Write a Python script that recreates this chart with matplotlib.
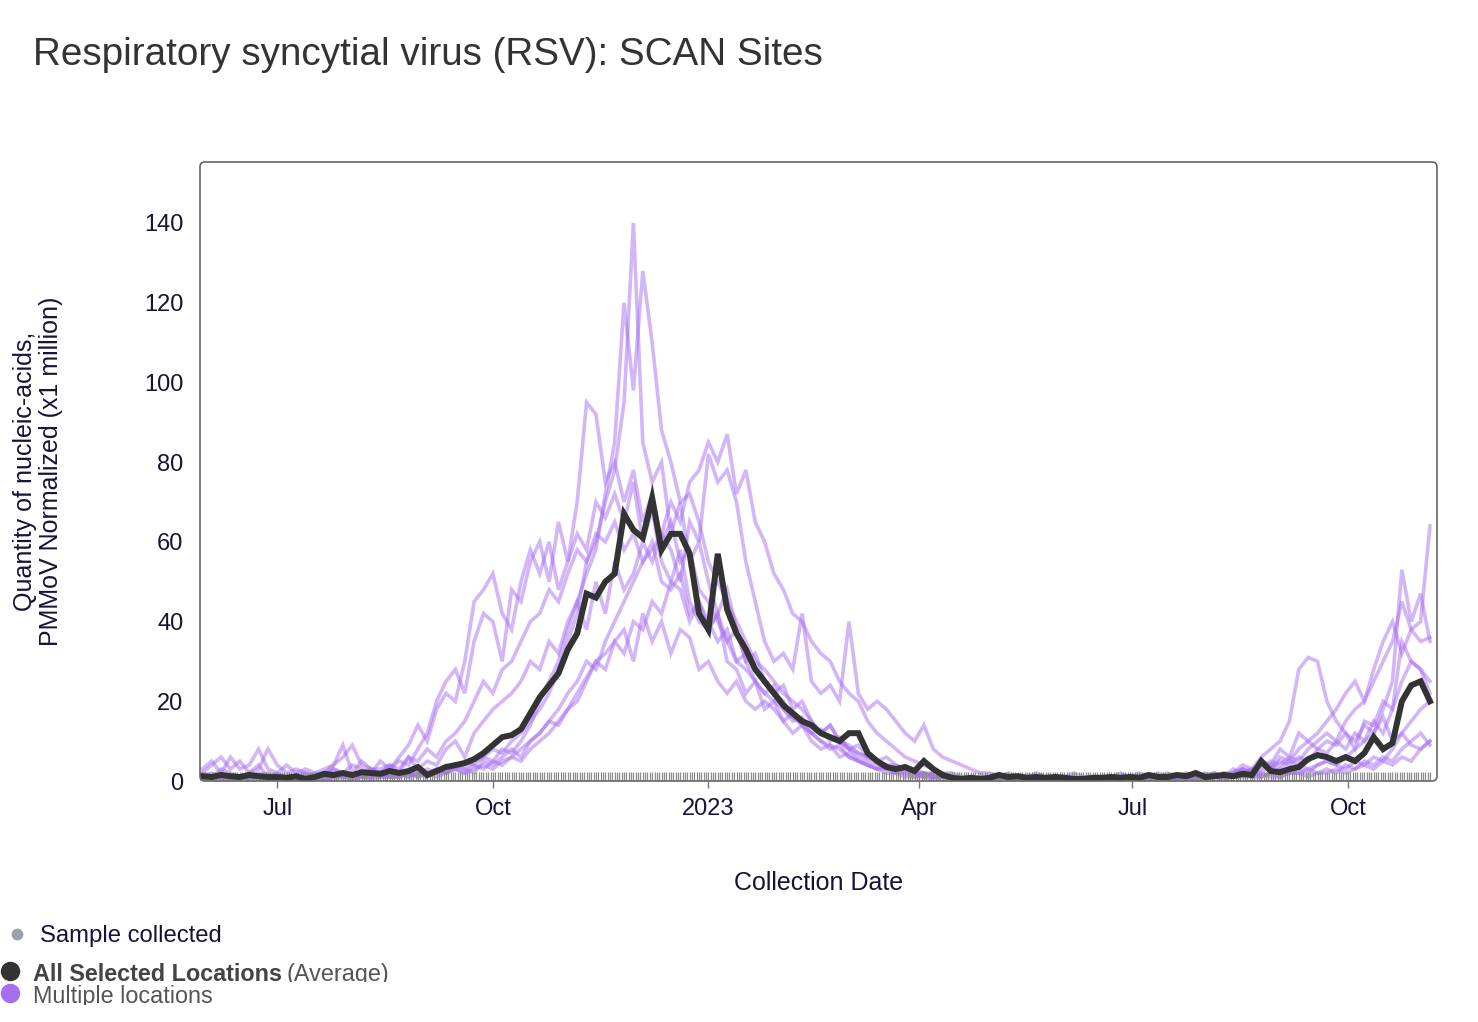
import matplotlib
matplotlib.use("Agg")
import matplotlib.pyplot as plt
from matplotlib.patches import FancyBboxPatch
from matplotlib.transforms import Bbox, TransformedBbox
import pandas as pd

plt.rcParams['font.family'] = ['Liberation Sans', 'DejaVu Sans']

# sampling grid of the series (every 4 days)
start_date = "2022-05-30"
n_points = 132
sample_start, sample_end = "2022-05-30", "2023-11-05"

tick_dates = ["2022-07-01", "2022-10-01", "2023-01-01", "2023-04-01", "2023-07-01", "2023-10-01"]
tick_labels = ["Jul", "Oct", "2023", "Apr", "Jul", "Oct"]
y_ticks = [0, 20, 40, 60, 80, 100, 120, 140]

avg_values = [
    1.2, 1, 1.5, 1.2, 1, 1.5, 1.2, 1, 1, 0.8, 1.2, 0.5,
    1, 1.8, 1.5, 2, 1.5, 2.2, 2, 1.8, 2.5, 2, 2.5, 3.5,
    1.5, 2.5, 3.5, 4, 4.5, 5.5, 7, 9, 11, 11.5, 13, 17,
    21, 24, 27, 33, 37, 47, 46, 50, 52, 67, 63, 61,
    71, 58, 62, 62, 57, 42, 38, 57, 43, 37, 33, 28,
    25, 22, 19, 17, 15, 14, 12, 11, 10, 12, 12, 7,
    5, 3.5, 3, 3.5, 2.5, 5, 3, 1.5, 0.8, 0.5, 0.8, 0.5,
    0.8, 1.5, 1, 1.2, 0.8, 1, 0.8, 1, 0.8, 0.5, 0.5, 0.8,
    0.8, 1, 0.8, 1, 0.8, 1.5, 1, 1, 1.5, 1.2, 2, 1,
    1.2, 1.5, 1.2, 1.8, 1.5, 5, 2.5, 2.2, 3, 3.5, 5.5, 6.5,
    6, 5, 6, 5, 7, 11, 8, 9.5, 20, 24, 25, 20,
]

site_1 = [
    2, 1, 3, 2, 1, 2, 4, 1, 2, 1, 1, 2,
    1, 2, 3, 2, 4, 3, 2, 5, 3, 6, 9, 14,
    10, 18, 22, 20, 30, 45, 48, 52, 42, 38, 50, 58,
    52, 60, 48, 55, 62, 58, 70, 66, 72, 65, 75, 60,
    68, 55, 50, 58, 45, 40, 38, 42, 30, 28, 22, 25,
    18, 20, 15, 12, 14, 10, 8, 9, 6, 7, 5, 4,
    3, 4, 2, 3, 2, 1, 2, 1, 1, 1, 0.5, 1,
    1, 0.5, 1, 1, 0.5, 1, 1, 0.5, 1, 1, 0.5, 1,
    1, 1, 0.5, 1, 2, 1, 1, 1.5, 1, 1, 2, 1,
    1, 2, 1, 3, 2, 5, 4, 8, 6, 12, 10, 8,
    10, 9, 12, 8, 15, 14, 20, 18, 25, 30, 28, 22,
]
site_2 = [
    1, 0.5, 1, 1, 0.5, 1, 1, 0.5, 1, 1, 1, 0.5,
    1, 0.5, 1, 2, 1, 1, 2, 1, 1, 2, 1, 2,
    2, 3, 2, 4, 3, 5, 6, 8, 7, 10, 12, 15,
    18, 22, 28, 35, 42, 55, 60, 70, 78, 95, 140, 85,
    75, 80, 62, 70, 55, 60, 50, 42, 48, 38, 30, 32,
    25, 22, 20, 16, 14, 12, 10, 9, 8, 6, 5, 4,
    3, 2, 2, 1, 1, 1, 0.5, 0.5, 1, 0.5, 0.5, 0.5,
    0.5, 0.5, 0.5, 1, 0.5, 0.5, 0.5, 0.5, 0.5, 0.5, 0.5, 0.5,
    0.5, 0.5, 0.5, 1, 0.5, 0.5, 1, 0.5, 0.5, 1, 0.5, 1,
    1, 1, 1, 2, 1, 1, 2, 1, 2, 2, 3, 2,
    3, 2, 4, 3, 5, 4, 6, 5, 8, 10, 12, 9,
]
site_3 = [
    0.5, 1, 0.5, 1, 0.5, 1, 0.5, 1, 1, 0.5, 1, 0.5,
    1, 1, 0.5, 1, 1, 2, 1, 1, 2, 1, 2, 2,
    3, 2, 4, 3, 5, 4, 6, 5, 8, 7, 10, 14,
    20, 25, 30, 38, 45, 52, 58, 72, 85, 120, 98, 128,
    110, 88, 80, 70, 72, 65, 55, 50, 45, 40, 35, 30,
    28, 25, 22, 20, 18, 15, 12, 14, 10, 8, 6, 5,
    4, 3, 3, 2, 2, 1, 1, 1, 0.5, 0.5, 0.5, 0.5,
    0.5, 0.5, 0.5, 0.5, 0.5, 0.5, 0.5, 0.5, 0.5, 0.5, 0.5, 0.5,
    0.5, 0.5, 1, 0.5, 0.5, 1, 0.5, 0.5, 1, 0.5, 1, 0.5,
    1, 0.5, 1, 1, 2, 1, 2, 3, 2, 3, 2, 4,
    5, 4, 6, 8, 10, 12, 18, 25, 53, 40, 47, 35,
]
site_4 = [
    3, 5, 2, 6, 3, 4, 8, 3, 2, 4, 2, 3,
    2, 3, 4, 6, 9, 4, 3, 2, 3, 5, 4, 8,
    12, 20, 25, 28, 22, 35, 42, 40, 30, 48, 45, 55,
    60, 50, 65, 55, 70, 95, 92, 75, 80, 70, 78, 65,
    72, 60, 65, 55, 58, 48, 45, 40, 35, 38, 30, 25,
    22, 24, 18, 15, 16, 12, 10, 8, 9, 6, 5, 4,
    3, 3, 2, 2, 1, 2, 1, 1, 1, 0.5, 1, 0.5,
    0.5, 1, 0.5, 0.5, 1, 0.5, 0.5, 1, 0.5, 0.5, 1, 0.5,
    1, 0.5, 1, 1, 0.5, 1, 1, 2, 1, 1, 1, 1.5,
    2, 1, 2, 3, 2, 4, 3, 5, 4, 6, 5, 8,
    7, 10, 8, 12, 10, 15, 12, 18, 35, 30, 28, 25,
]
site_5 = [
    0.5, 1, 0.5, 0.5, 1, 0.5, 1, 0.5, 0.5, 1, 0.5, 0.5,
    1, 0.5, 1, 1, 0.5, 1, 1, 2, 1, 1, 2, 1,
    2, 1, 2, 3, 2, 3, 4, 3, 5, 6, 8, 10,
    12, 15, 18, 22, 25, 30, 28, 35, 40, 45, 50, 55,
    58, 62, 70, 65, 75, 78, 85, 80, 87, 72, 78, 65,
    60, 52, 48, 42, 40, 35, 32, 30, 25, 22, 20, 15,
    12, 10, 8, 6, 5, 4, 3, 2, 2, 1, 1, 1,
    0.5, 1, 0.5, 0.5, 1, 0.5, 0.5, 0.5, 1, 0.5, 0.5, 0.5,
    0.5, 0.5, 1, 0.5, 0.5, 0.5, 1, 0.5, 0.5, 1, 0.5, 0.5,
    1, 0.5, 1, 1, 1, 2, 1, 1, 2, 2, 1, 2,
    2, 3, 2, 3, 4, 3, 5, 4, 6, 5, 8, 10,
]
site_6 = [
    1, 2, 1, 0.5, 1, 1, 2, 1, 1, 0.5, 1, 1,
    1, 0.5, 1, 2, 1, 1, 0.5, 1, 1, 2, 1, 2,
    1, 2, 2, 3, 2, 4, 3, 5, 4, 6, 5, 8,
    10, 12, 15, 18, 20, 25, 30, 32, 35, 38, 30, 42,
    35, 40, 32, 38, 36, 28, 30, 25, 22, 25, 20, 18,
    20, 18, 15, 17, 14, 12, 13, 10, 11, 8, 9, 6,
    5, 6, 4, 3, 3, 2, 2, 1, 1, 1, 0.5, 1,
    0.5, 1, 0.5, 0.5, 0.5, 1, 0.5, 0.5, 0.5, 0.5, 1, 0.5,
    0.5, 0.5, 0.5, 1, 0.5, 0.5, 0.5, 1, 0.5, 0.5, 0.5, 1,
    1, 1, 1, 2, 3, 2, 4, 3, 5, 4, 3, 4,
    5, 4, 3, 5, 4, 6, 5, 8, 12, 15, 18, 20,
]
site_7 = [
    2, 4, 6, 3, 5, 2, 3, 8, 4, 2, 3, 2,
    1, 2, 4, 9, 2, 5, 3, 3, 4, 2, 6, 3,
    5, 4, 8, 10, 6, 12, 15, 18, 20, 22, 25, 30,
    28, 35, 32, 40, 45, 38, 50, 42, 55, 48, 52, 60,
    55, 62, 58, 50, 65, 60, 82, 75, 78, 70, 55, 45,
    35, 30, 32, 28, 42, 25, 22, 24, 20, 40, 22, 18,
    20, 18, 15, 12, 10, 14, 8, 6, 5, 4, 3, 2,
    2, 1, 2, 1, 1, 2, 1, 1, 1, 2, 1, 1,
    1, 1, 2, 1, 1, 1, 2, 1, 1, 2, 1, 1,
    2, 1, 3, 2, 3, 4, 3, 6, 5, 8, 10, 12,
    15, 18, 22, 25, 20, 28, 35, 40, 32, 38, 35, 36,
]
site_8 = [
    0.5, 1, 1, 0.5, 1, 2, 1, 0.5, 1, 1, 0.5, 1,
    1, 1, 2, 1, 0.5, 1, 1, 2, 1, 1, 2, 1,
    2, 3, 2, 4, 3, 2, 5, 4, 6, 8, 6, 10,
    12, 15, 14, 18, 22, 26, 30, 28, 35, 32, 40, 38,
    45, 42, 50, 48, 40, 45, 38, 42, 35, 30, 32, 28,
    25, 22, 24, 18, 20, 15, 12, 14, 10, 9, 7, 6,
    5, 4, 3, 3, 2, 2, 1, 1, 1, 1, 0.5, 1,
    0.5, 1, 0.5, 1, 0.5, 0.5, 1, 0.5, 0.5, 1, 0.5, 0.5,
    1, 0.5, 0.5, 1, 0.5, 1, 0.5, 1, 1, 0.5, 1, 2,
    1, 2, 2, 4, 3, 6, 8, 10, 15, 28, 31, 30,
    20, 15, 12, 10, 14, 12, 16, 10, 12, 9, 8, 10,
]
site_9 = [
    1, 0.5, 2, 1, 1, 0.5, 1, 2, 1, 0.5, 1, 1,
    2, 1, 3, 2, 1, 2, 3, 2, 4, 3, 6, 5,
    8, 6, 10, 12, 15, 20, 25, 22, 28, 30, 35, 40,
    42, 48, 45, 52, 58, 55, 62, 60, 65, 58, 62, 55,
    60, 50, 48, 52, 42, 45, 40, 35, 38, 30, 28, 25,
    22, 20, 18, 16, 15, 14, 12, 11, 10, 8, 7, 6,
    5, 4, 4, 3, 2, 2, 1, 1, 1, 0.5, 1, 0.5,
    0.5, 0.5, 1, 0.5, 1, 0.5, 0.5, 0.5, 1, 0.5, 0.5, 1,
    0.5, 1, 0.5, 0.5, 1, 0.5, 1, 1, 0.5, 1, 1, 1,
    2, 1, 2, 3, 2, 3, 5, 4, 6, 5, 8, 10,
    12, 10, 15, 18, 20, 25, 30, 35, 45, 38, 40, 64,
]
sites = [site_1, site_2, site_3, site_4, site_5, site_6, site_7, site_8, site_9]

dates = pd.date_range(start_date, periods=n_points, freq="4D")
sample_days = pd.date_range(sample_start, sample_end, freq="D")

W, H = 1478, 1022
fig = plt.figure(figsize=(W / 100, H / 100), dpi=100)
ax = fig.add_axes([200 / W, 1 - 781 / H, 1237 / W, 619 / H])

purple = "#a66ff0"
for s in sites:
    ax.plot(dates, s, color=purple, alpha=0.5, lw=2.6, solid_joinstyle="miter")
ax.plot(dates, avg_values, color="#333333", lw=4.3, solid_joinstyle="miter", zorder=5)

# sample collected rug
ax.vlines(sample_days, 0, 0.014, transform=ax.get_xaxis_transform(),
          color="#8c8c8c", lw=0.9, zorder=2)

ax.set_xlim(pd.Timestamp("2022-05-29"), pd.Timestamp("2023-11-08"))
ax.set_ylim(0, 155.3)
ax.set_xticks(pd.to_datetime(tick_dates))
ax.set_xticklabels(tick_labels)
ax.set_yticks(y_ticks)
ax.tick_params(axis="x", length=5, width=1, color="#777777", pad=7,
               labelsize=17, labelcolor="#14143a")
ax.tick_params(axis="y", length=0, pad=12, labelsize=17, labelcolor="#14143a")
for sp in ax.spines.values():
    sp.set_visible(False)

frame = FancyBboxPatch((0, 0), 1, 1, transform=ax.transAxes,
                       boxstyle="round,pad=0,rounding_size=0.004",
                       mutation_aspect=1237 / 619, fill=False,
                       edgecolor="#666666", lw=1.2, clip_on=False, zorder=6)
ax.add_patch(frame)

fig.text(33 / W, 1 - 55 / H, "Respiratory syncytial virus (RSV): SCAN Sites",
         fontsize=27.8, color="#333333", va="center", ha="left")
fig.text(38 / W, 1 - 471 / H, "Quantity of nucleic-acids,\nPMMoV Normalized (x1 million)",
         rotation=90, fontsize=18, color="#14143a", va="center", ha="center",
         multialignment="center", linespacing=1.15)
fig.text(819 / W, 1 - 883 / H, "Collection Date", fontsize=18, color="#14143a",
         va="center", ha="center")

# legend
fig.add_artist(plt.Line2D([17 / W], [1 - 934 / H], marker="o", ms=7.5,
                          color="#9aa0ae", lw=0, transform=fig.transFigure))
fig.text(40 / W, 1 - 936 / H, "Sample collected", fontsize=17.2, color="#14143a",
         va="center", ha="left")

fig.add_artist(plt.Line2D([10 / W], [1 - 971 / H], marker="o", ms=13,
                          color="#333333", lw=0, transform=fig.transFigure))
fig.add_artist(plt.Line2D([10 / W], [1 - 993 / H], marker="o", ms=13,
                          color=purple, lw=0, transform=fig.transFigure))

clip1 = TransformedBbox(Bbox([[0, 1 - 982 / H], [1, 1]]), fig.transFigure)
clip2 = TransformedBbox(Bbox([[0, 1 - 1005 / H], [1, 1]]), fig.transFigure)
t1 = fig.text(33 / W, 1 - 974 / H, "All Selected Locations", fontsize=16.8,
              fontweight="bold", color="#444444", va="center", ha="left")
t2 = fig.text(286 / W, 1 - 974 / H, "(Average)", fontsize=16.8,
              color="#555555", va="center", ha="left")
t3 = fig.text(33 / W, 1 - 996 / H, "Multiple locations", fontsize=16.8,
              color="#555555", va="center", ha="left")
for t, c in [(t1, clip1), (t2, clip1), (t3, clip2)]:
    t.set_clip_box(c)
    t.set_clip_on(True)

fig.savefig("out.png", dpi=100, facecolor="white")
